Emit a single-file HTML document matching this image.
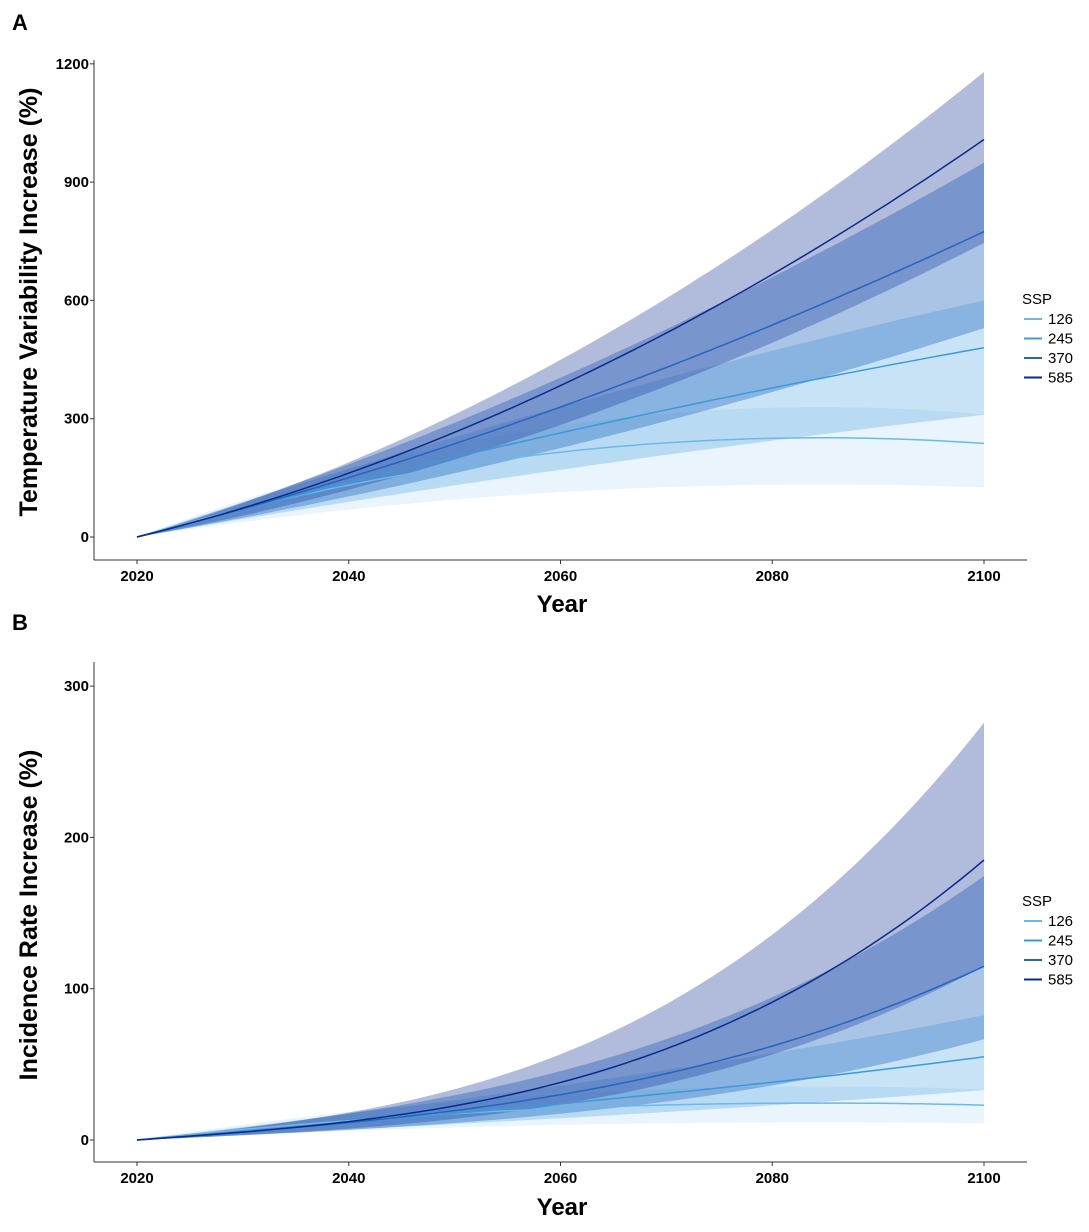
<!DOCTYPE html>
<html><head><meta charset="utf-8"><style>
html,body{margin:0;padding:0;background:#fff;}
svg text{font-family:"Liberation Sans","DejaVu Sans",sans-serif;}
</style></head><body>
<svg id="s" width="1089" height="1227" xmlns="http://www.w3.org/2000/svg">
<rect width="1089" height="1227" fill="#fff"/>
<g id="ga"></g><g id="gb"></g>
<text x="12" y="30" font-size="22" font-weight="bold">A</text>
<text x="12" y="630" font-size="22" font-weight="bold">B</text>
<text transform="translate(37,302) rotate(-90)" text-anchor="middle" font-size="25" font-weight="bold">Temperature Variability Increase (%)</text>
<text transform="translate(37,915) rotate(-90)" text-anchor="middle" font-size="25" font-weight="bold">Incidence Rate Increase (%)</text>
<text x="562" y="612" text-anchor="middle" font-size="24" font-weight="bold">Year</text>
<text x="562" y="1215" text-anchor="middle" font-size="24" font-weight="bold">Year</text>
</svg>
<script>
var NS="http://www.w3.org/2000/svg";
function el(p,t,a,txt){var e=document.createElementNS(NS,t);for(var k in a)e.setAttribute(k,a[k]);if(txt!==undefined)e.textContent=txt;p.appendChild(e);return e;}
var X=function(yr){return 137+(yr-2020)*10.5875;};
var cols={126:{f:"#8fc6ee",o:0.2,l:"#6cb8e8"},245:{f:"#49a3de",o:0.3,l:"#3b9ad9"},370:{f:"#2a6cc0",o:0.4,l:"#2366c0"},585:{f:"#203f9e",o:0.35,l:"#0c2a8a"}};
function panel(g,Y,axTop,axBot,ticks,series,leg){
  ["126","245","370","585"].forEach(function(k){
    var s=series[k],c=cols[k];var up="",lo="",ln="";
    for(var i=0;i<=80;i++){var t=i,m=s.m(t);
      up+=(i?"L":"M")+X(2020+t).toFixed(1)+","+Y(m*s.u).toFixed(1);
      ln+=(i?"L":"M")+X(2020+t).toFixed(1)+","+Y(m).toFixed(1);}
    for(var i=80;i>=0;i--){var m=s.m(i);lo+="L"+X(2020+i).toFixed(1)+","+Y(m*s.d).toFixed(1);}
    el(g,"path",{d:up+lo+"Z",fill:c.f,"fill-opacity":c.o,stroke:"none"});
    s.ln=ln;
  });
  ["126","245","370","585"].forEach(function(k){el(g,"path",{d:series[k].ln,fill:"none",stroke:cols[k].l,"stroke-width":1.5});});
  el(g,"line",{x1:94,y1:axTop,x2:94,y2:axBot,stroke:"#333","stroke-width":1});
  el(g,"line",{x1:94,y1:axBot,x2:1027,y2:axBot,stroke:"#333","stroke-width":1});
  ticks.forEach(function(v){var y=Y(v);el(g,"line",{x1:90,y1:y,x2:94,y2:y,stroke:"#333"});
    el(g,"text",{x:89,y:y+5,"text-anchor":"end","font-size":15,"font-weight":"bold"},String(v));});
  [2020,2040,2060,2080,2100].forEach(function(yr){var x=X(yr);el(g,"line",{x1:x,y1:axBot,x2:x,y2:axBot+4,stroke:"#333"});
    el(g,"text",{x:x,y:axBot+21,"text-anchor":"middle","font-size":15,"font-weight":"bold"},String(yr));});
  el(g,"text",{x:1022,y:leg,"font-size":15},"SSP");
  ["126","245","370","585"].forEach(function(k,i){var y=leg+20+i*19.5;
    el(g,"line",{x1:1024,y1:y-5,x2:1042,y2:y-5,stroke:cols[k].l,"stroke-width":2});
    el(g,"text",{x:1048,y:y,"font-size":15},k);});
}
var YA=function(v){return 537-v*0.3943;};
panel(document.getElementById("ga"),YA,60,560,[0,300,600,900,1200],{
 "126":{m:function(t){return 7.79*t-0.0603*t*t;},u:1.31,d:0.53},
 "245":{m:function(t){return 7.2*t-0.015*t*t;},u:1.25,d:0.646},
 "370":{m:function(t){return 6.8*t+0.036*t*t;},u:1.226,d:0.684},
 "585":{m:function(t){return 6.6*t+0.075*t*t;},u:1.17,d:0.74}},304);
var YB=function(v){return 1140-v*1.513;};
panel(document.getElementById("gb"),YB,662,1162,[0,100,200,300],{
 "126":{m:function(t){return (7.79*t-0.0603*t*t)*23/237;},u:1.45,d:0.48},
 "245":{m:function(t){return 0.571*t+1.82e-5*t*t*t;},u:1.5,d:0.6},
 "370":{m:function(t){return 0.52*t+1.43e-4*t*t*t;},u:1.52,d:0.58},
 "585":{m:function(t){return 0.496*t+2.84e-4*t*t*t;},u:1.49,d:0.62}},906);
</script>
</body></html>
